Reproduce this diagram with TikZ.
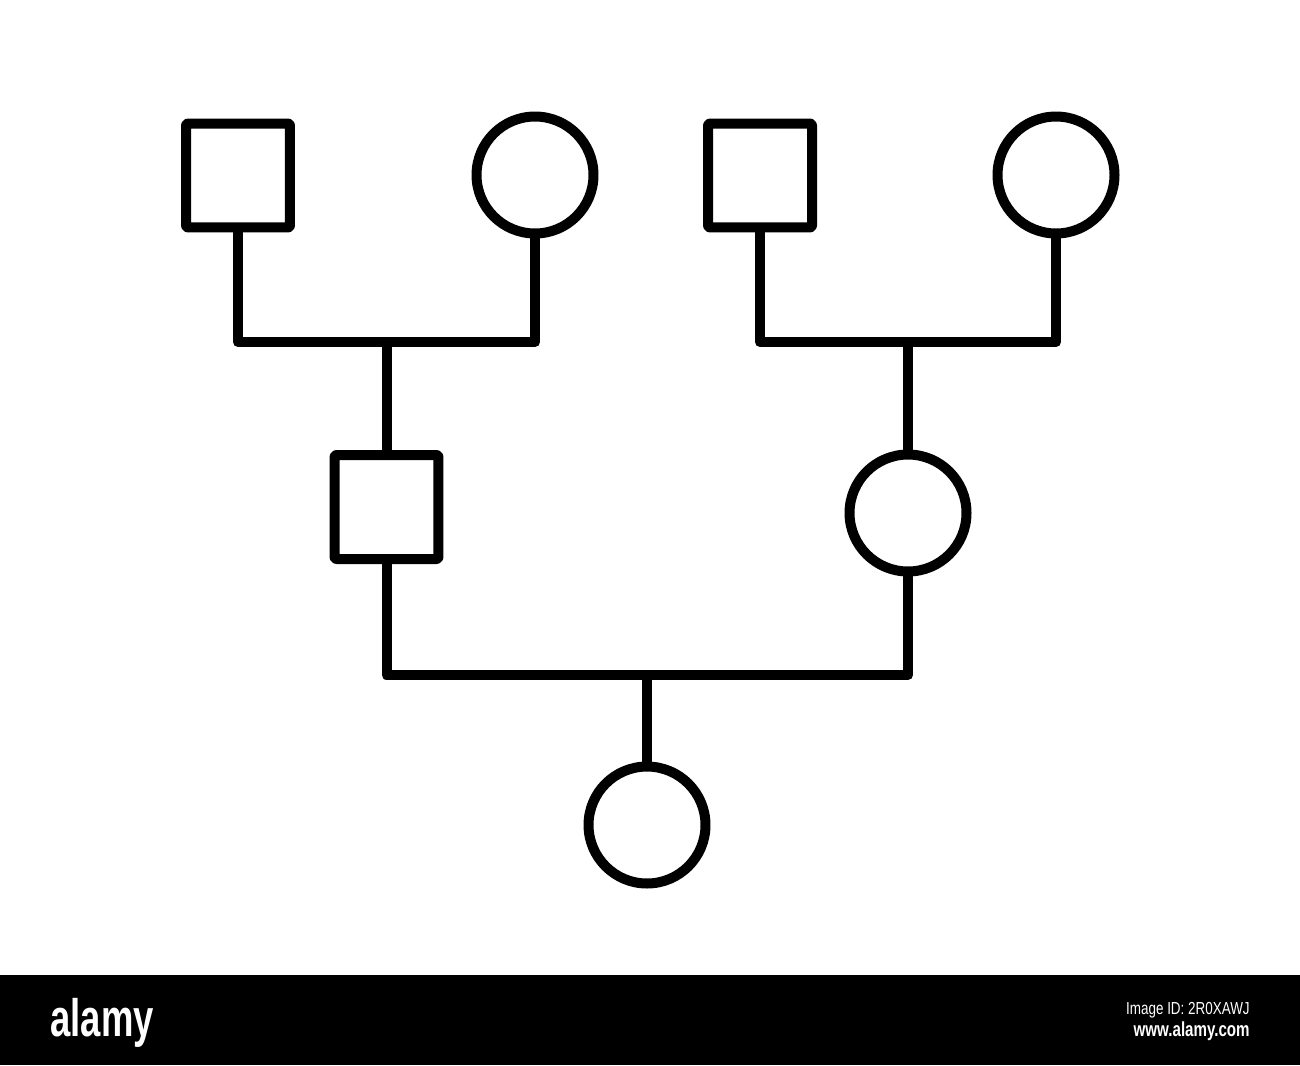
\documentclass[tikz,border=0pt]{standalone}
\usepackage{fontspec}
\usepackage{graphicx}
\setmainfont{Liberation Sans}
\begin{document}
\begin{tikzpicture}[x=0.02cm,y=-0.02cm,
  lw/.style={line width=0.2cm, line join=round},
  male/.style={draw, lw, rectangle, minimum size=2.08cm, outer sep=0pt, rounded corners=0.04cm},
  female/.style={draw, lw, circle, minimum size=2.34cm, outer sep=0pt},
  link/.style={lw}]
\useasboundingbox (0,0) rectangle (1300,1065);
\fill[white] (0,0) rectangle (1300,1065);
% generation 1
\node[male]   (m1) at (238,175.5) {};
\node[female] (f1) at (535,175)   {};
\node[male]   (m2) at (760,175.5) {};
\node[female] (f2) at (1056,175)  {};
% generation 2
\node[male]   (m3) at (386.5,507) {};
\node[female] (f3) at (908,513)   {};
% generation 3
\node[female] (f4) at (647,825)   {};
% junctions
\coordinate (j1) at (386.5,342);
\coordinate (j2) at (908,342);
\coordinate (j3) at (647,675);
\draw[link] (m1.south) |- (j1) -| (f1.south);
\draw[link] (j1) -- (m3.north);
\draw[link] (m2.south) |- (j2) -| (f2.south);
\draw[link] (j2) -- (f3.north);
\draw[link] (m3.south) |- (j3) -| (f3.south);
\draw[link] (j3) -- (f4.north);
% bottom banner
\fill[black] (0,975) rectangle (1300,1065);
\node[anchor=base west, text=white, inner sep=0pt, font=\bfseries\fontsize{25}{25}\selectfont] (logo) at (50,1036) {\scalebox{0.83}[1.2]{alamy}};
\node[anchor=base east, text=white, inner sep=0pt, font=\fontsize{9}{9}\selectfont] (imgid) at (1250,1014) {\scalebox{0.85}[1.1]{Image ID: 2R0XAWJ}};
\node[anchor=base east, text=white, inner sep=0pt, font=\bfseries\fontsize{10.5}{10.5}\selectfont] (url) at (1250,1036) {\scalebox{0.82}[1.1]{www.alamy.com}};
\end{tikzpicture}
\end{document}
